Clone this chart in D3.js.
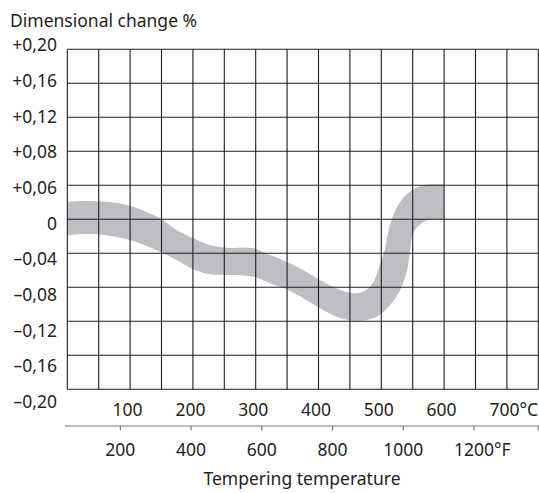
<!DOCTYPE html>
<html lang="en">

<head>
  <meta charset="UTF-8">
  <title>Dimensional change</title>
  <script src="https://d3js.org/d3.v7.min.js"></script>
  <style>
    body {
      margin: 0;
      background: #fff;
    }

    text {
      font-family: "Noto Sans", sans-serif;
      font-size: 17.5px;
      fill: #231f20;
    }

    .grid line {
      stroke: #1e1e1e;
      stroke-width: 1.1px;
    }

    .band {
      fill: #bebfc3;
      stroke: none;
    }

    .faxis line {
      stroke: #7a7a7a;
      stroke-width: 1.2px;
    }
  </style>
</head>

<body>

  <script>
    // axis values / labels
    const yTickValues = [0.20, 0.16, 0.12, 0.08, 0.06, 0, -0.04, -0.08, -0.12, -0.16, -0.20];
    const yTickLabels = ["+0,20", "+0,16", "+0,12", "+0,08", "+0,06", "0", "–0,04", "–0,08", "–0,12", "–0,16", "–0,20"];
    const celsiusTicks = [100, 200, 300, 400, 500, 600, 700];
    const fahrenheitTicks = [200, 400, 600, 800, 1000, 1200];

    // upper edge of the grey band (°C, %)
    const upperC = [0, 40, 95, 147.5, 174, 200.5, 227, 253.7, 296, 322.6, 349, 375.6, 402, 428.8, 454.7, 470.6, 486.5, 496, 505.6, 509.3, 516.3, 528.4, 542.7, 558.7, 577.3, 600];
    const upperV = [0.0311, 0.0323, 0.0252, 0.0018, -0.0126, -0.0224, -0.0302, -0.0334, -0.0341, -0.0420, -0.0499, -0.0597, -0.0714, -0.0812, -0.0871, -0.0852, -0.0753, -0.0573, -0.0361, -0.0205, -0.0008, 0.0282, 0.0459, 0.0575, 0.0605, 0.0605];

    // lower edge of the grey band (°C, %)
    const lowerC = [0, 40, 95, 147.5, 174, 200.5, 227, 253.7, 296, 322.6, 349, 375.6, 402, 428.8, 454.7, 481.6, 497.5, 524, 540, 545.5, 550.8, 564, 580, 600];
    const lowerV = [-0.0185, -0.0174, -0.0235, -0.0381, -0.0479, -0.0588, -0.0647, -0.0655, -0.0675, -0.0753, -0.0824, -0.0929, -0.1047, -0.1146, -0.1193, -0.1176, -0.1126, -0.0911, -0.0632, -0.0385, -0.0161, -0.0047, 0.0, 0.0];

    var width = 539, height = 493;
    var plot = {left: 67.3, right: 538.3, top: 49.3, bottom: 389.3};

    const svg = d3.select("body").append("svg")
      .attr("width", width)
      .attr("height", height);

    // scales
    var x = d3.scaleLinear().domain([0, 750]).range([plot.left, plot.right]);
    var rowH = (plot.bottom - plot.top) / (yTickValues.length - 1);
    // the value axis is not linear (+0,08 -> +0,06 is one row), so map per grid line
    var y = d3.scaleLinear()
      .domain(yTickValues.slice().reverse())
      .range(yTickValues.map((d, i) => plot.bottom - i * rowH));
    // labels sit on their own, slightly wider spacing
    var yLab = d3.scalePoint().domain(yTickLabels).range([45, 401.5]);
    var xF = d3.scaleLinear().domain([50, 1382]).range([plot.left, plot.right]);

    // grey band
    var edge = d3.line()
      .x(d => x(d[0]))
      .y(d => y(d[1]))
      .curve(d3.curveCatmullRom);
    var up = upperC.map((c, i) => [c, upperV[i]]);
    var low = lowerC.map((c, i) => [c, lowerV[i]]).reverse();
    svg.append("path")
      .attr("class", "band")
      .attr("d", edge(up) + "L" + edge(low).slice(1) + "Z");

    // grid
    const grid = svg.append("g").attr("class", "grid");
    grid.selectAll(".v")
      .data(d3.range(0, 751, 50))
      .enter().append("line")
      .attr("x1", d => x(d)).attr("x2", d => x(d))
      .attr("y1", plot.top).attr("y2", plot.bottom);
    grid.selectAll(".h")
      .data(yTickValues)
      .enter().append("line")
      .attr("x1", plot.left).attr("x2", plot.right)
      .attr("y1", d => y(d)).attr("y2", d => y(d));

    // y labels
    svg.selectAll(".ylab")
      .data(yTickLabels)
      .enter().append("text")
      .attr("x", 57)
      .attr("y", d => yLab(d) + 6.3)
      .attr("text-anchor", "end")
      .text(d => d);

    svg.append("text")
      .attr("x", 10)
      .attr("y", 27)
      .text("Dimensional change %");

    // celsius labels
    const cl = svg.selectAll(".clab")
      .data(celsiusTicks)
      .enter().append("text")
      .attr("x", d => x(d) - 2.5)
      .attr("y", 416)
      .attr("text-anchor", "middle")
      .text(d => d);
    cl.filter((d, i) => i == celsiusTicks.length - 1).each(function (d) {
      var w = this.getComputedTextLength();
      svg.append("text")
        .attr("x", x(d) - 2.5 + w / 2)
        .attr("y", 416)
        .text("°C");
    });

    // fahrenheit axis
    const fa = svg.append("g").attr("class", "faxis");
    fa.append("line")
      .attr("x1", 65).attr("x2", width)
      .attr("y1", 426).attr("y2", 426);
    fa.selectAll(".tick")
      .data(fahrenheitTicks)
      .enter().append("line")
      .attr("x1", d => xF(d)).attr("x2", d => xF(d))
      .attr("y1", 426).attr("y2", 430.5);
    fa.append("line")
      .attr("x1", plot.right).attr("x2", plot.right)
      .attr("y1", 426).attr("y2", 430.5);

    const fl = svg.selectAll(".flab")
      .data(fahrenheitTicks)
      .enter().append("text")
      .attr("x", d => xF(d))
      .attr("y", 456)
      .attr("text-anchor", "middle")
      .text(d => d);
    fl.filter((d, i) => i == fahrenheitTicks.length - 1).each(function (d) {
      var w = this.getComputedTextLength();
      svg.append("text")
        .attr("x", xF(d) + w / 2)
        .attr("y", 456)
        .text("°F");
    });

    svg.append("text")
      .attr("x", 302)
      .attr("y", 485)
      .attr("text-anchor", "middle")
      .text("Tempering temperature");
  </script>

</body>

</html>
